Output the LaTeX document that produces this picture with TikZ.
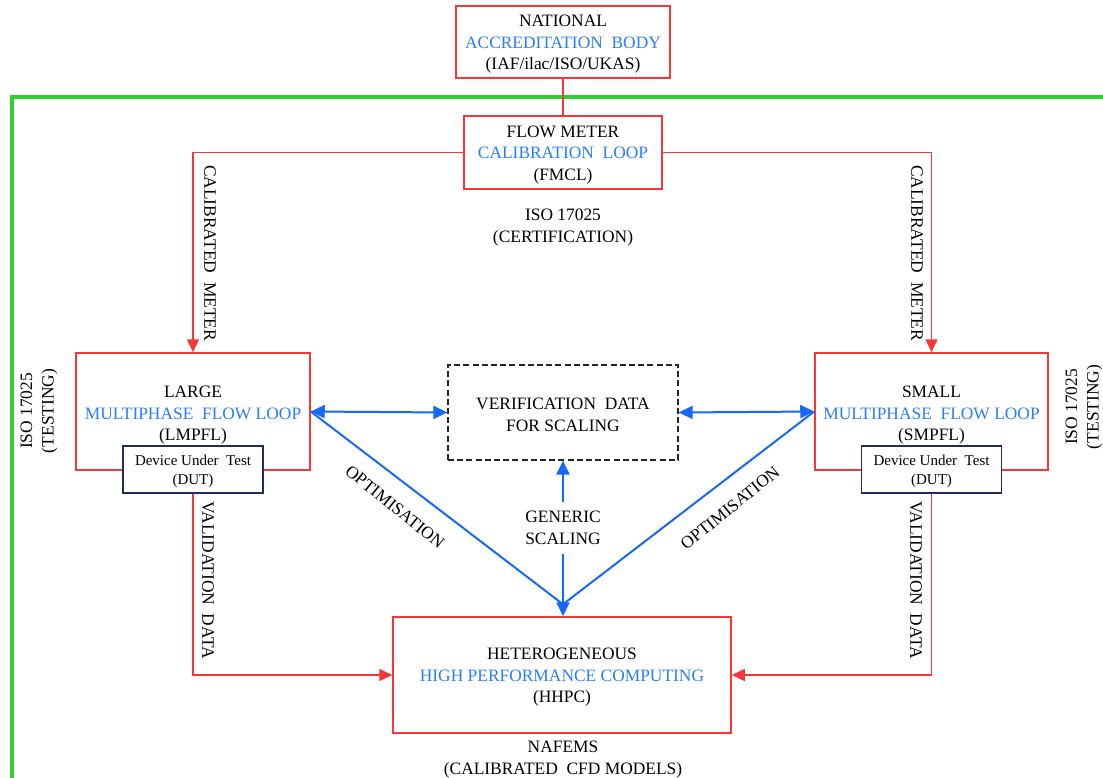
\documentclass[tikz,border=0pt]{standalone}
\usepackage{fontspec}
\setmainfont{Liberation Serif}
\usetikzlibrary{arrows.meta}
\definecolor{rline}{RGB}{245,55,55}
\definecolor{btxt}{RGB}{40,125,255}
\definecolor{bline}{RGB}{20,105,250}
\definecolor{gline}{RGB}{50,205,50}
\definecolor{dutc}{RGB}{30,45,90}
\tikzset{
  rbox/.style={draw=rline, line width=0.75pt, inner sep=0pt},
  dutbox/.style={draw=dutc, line width=0.6pt, fill=white, inner sep=0pt,
    minimum width=70pt, minimum height=23.5pt},
  duttxt/.style={align=center, inner sep=0pt, font=\fontsize{7.5}{9.5}\selectfont},
  lbl/.style={align=center, inner sep=0pt, font=\fontsize{8.7}{10.75}\selectfont},
  rarrow/.style={draw=rline, line width=0.75pt, -{Triangle[length=6.5pt,width=6pt]}},
  rconn/.style={draw=rline, line width=0.75pt},
  barrow/.style={draw=bline, line width=1pt, >={Triangle[length=7pt,width=6.5pt]}},
}
\begin{document}
\begin{tikzpicture}[x=0.5pt,y=-0.5pt]
\useasboundingbox (0,0) rectangle (1103,777);
% green frame
\draw[gline, line width=2pt] (12,790) -- (12,97) -- (1110,97);
% boxes
\node[rbox, minimum width=107pt, minimum height=36pt] (nat) at (563,42) {};
\node[lbl] (natt) at (563,44.5)
  {NATIONAL\\\textcolor{btxt}{ACCREDITATION\ \ BODY}\\(IAF/ilac/ISO/UKAS)};
\node[rbox, minimum width=99pt, minimum height=36.5pt] (fm) at (563,152.5) {};
\node[lbl] (fmt) at (563,155)
  {FLOW METER\\\textcolor{btxt}{CALIBRATION\ \ LOOP}\\(FMCL)};
\node[lbl] (cert) at (563,227.5) {ISO 17025\\(CERTIFICATION)};
\node[rbox, minimum width=117pt, minimum height=58.5pt] (lm) at (193,411.5) {};
\node[lbl] (lmt) at (193,415.5) {LARGE\\\textcolor{btxt}{MULTIPHASE\ \ FLOW LOOP}\\(LMPFL)};
\node[dutbox] (dutl) at (193,469.5) {};
\node[duttxt] (dutlt) at (193,471.5) {Device Under\ \ Test\\(DUT)};
\node[rbox, minimum width=116.5pt, minimum height=58.5pt] (sm) at (931.5,411.5) {};
\node[lbl] (smt) at (931.5,415.5) {SMALL\\\textcolor{btxt}{MULTIPHASE\ \ FLOW LOOP}\\(SMPFL)};
\node[dutbox] (dutr) at (931.5,469.5) {};
\node[duttxt] (dutrt) at (931.5,471.5) {Device Under\ \ Test\\(DUT)};
\node[draw=black!85, dash pattern=on 3pt off 1.6pt, line width=0.6pt, inner sep=0pt,
  minimum width=115pt, minimum height=47.5pt] (ver) at (563,412.5) {};
\node[lbl] (vert) at (563,415) {VERIFICATION\ \ DATA\\FOR SCALING};
\node[rbox, minimum width=169pt, minimum height=58pt] (hh) at (562,675) {};
\node[lbl] (hht) at (562,677.5)
  {HETEROGENEOUS\\\textcolor{btxt}{HIGH PERFORMANCE COMPUTING}\\(HHPC)};
\node[lbl] (naf) at (563,759.5) {NAFEMS\\(CALIBRATED\ \ CFD MODELS)};
\node[lbl, inner ysep=4.5pt] (gs) at (563,528) {GENERIC\\SCALING};
% rotated labels
\node[lbl, rotate=-90] (cml) at (210,253) {CALIBRATED\ \ METER};
\node[lbl, rotate=-90] (cmr) at (917,253) {CALIBRATED\ \ METER};
\node[lbl, rotate=-90] (vdl) at (208,580) {VALIDATION\ \ DATA};
\node[lbl, rotate=-90] (vdr) at (916,580) {VALIDATION\ \ DATA};
\node[lbl, rotate=90] (isol) at (39,411) {ISO 17025\\(TESTING)};
\node[lbl, rotate=90] (isor) at (1084,407) {ISO 17025\\(TESTING)};
\node[lbl, rotate=-39] (optl) at (395,507) {OPTIMISATION};
\node[lbl, rotate=39] (optr) at (730,508) {OPTIMISATION};
% red connectors
\draw[rconn] (nat.south) -- (fm.north);
\draw[rarrow] (fm.west) -| (lm.north);
\draw[rarrow] (fm.east) -| (sm.north);
\draw[rarrow] (dutl.south) |- (hh.west);
\draw[rarrow] (dutr.south) |- (hh.east);
% blue connectors
\coordinate (hin) at (gs.south |- hh.north);
\coordinate (meet) at ([yshift=6pt]hin);
\draw[barrow] (lm.east) -- (meet);
\draw[barrow] (sm.west) -- (meet);
\draw[barrow, <->] (lm.east) -- (ver.west);
\draw[barrow, <->] (ver.east) -- (sm.west);
\draw[barrow, ->] (gs.north) -- (ver.south);
\draw[barrow, ->] (gs.south) -- (hin);
\end{tikzpicture}
\end{document}
